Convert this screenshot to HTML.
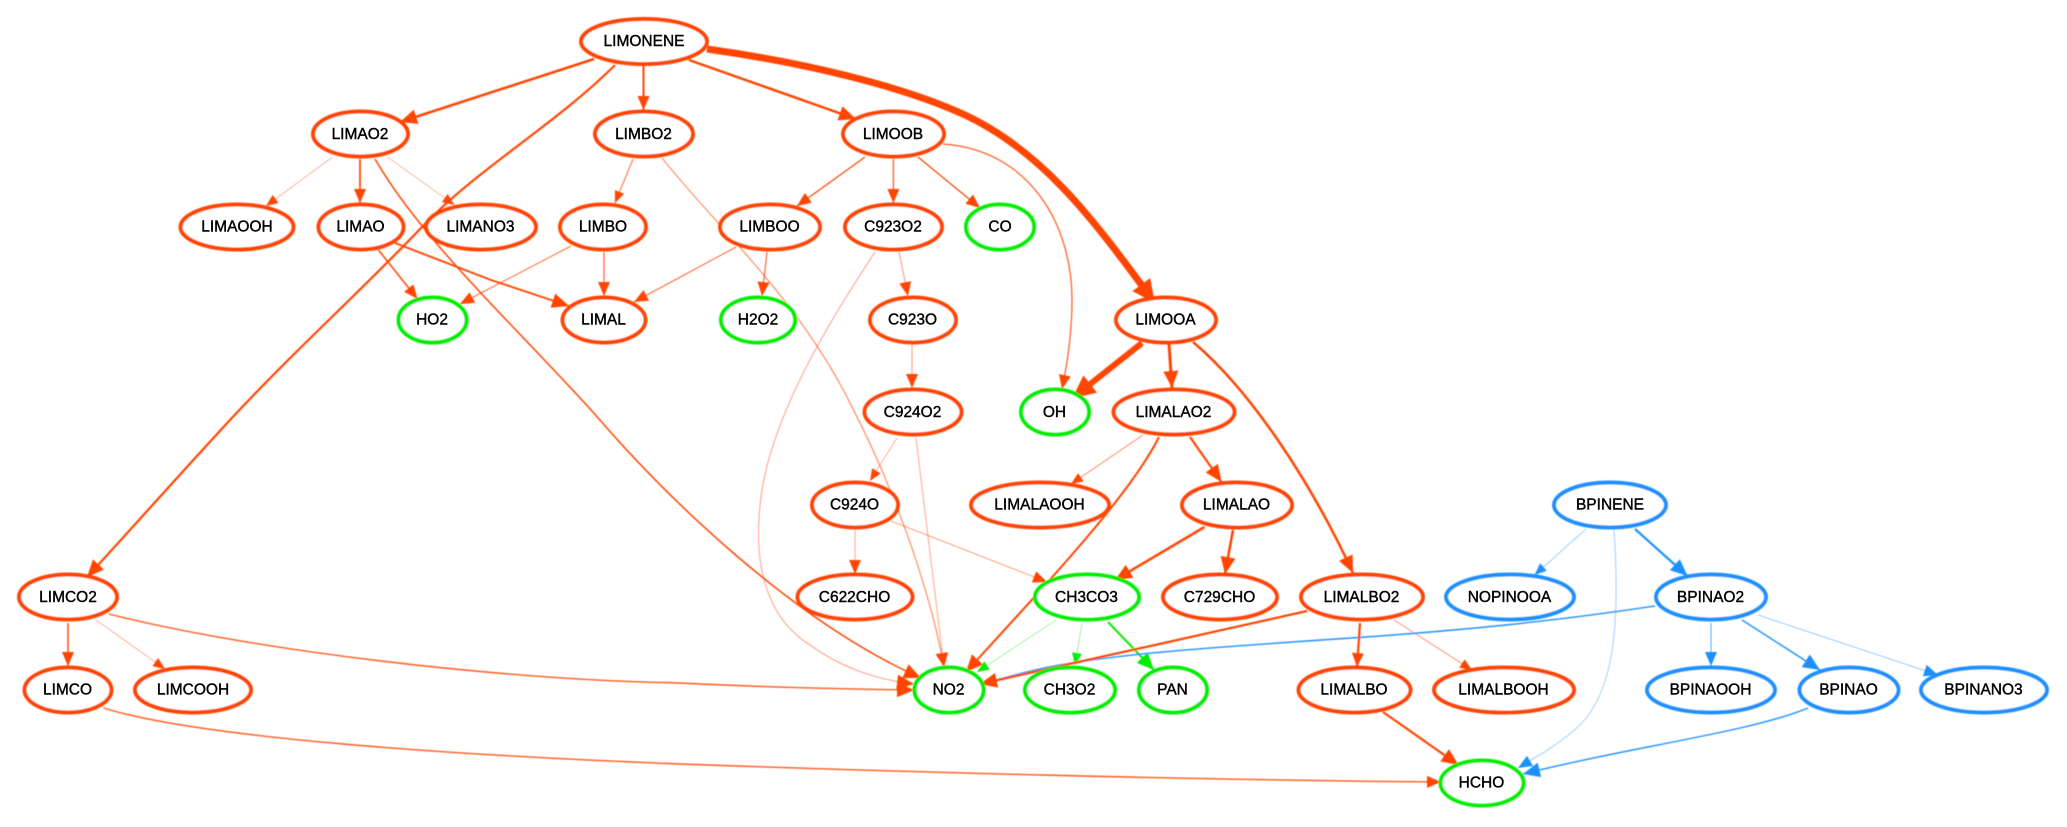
<!DOCTYPE html>
<html><head><meta charset="utf-8"><title>Reaction graph</title>
<style>
html,body{margin:0;padding:0;background:#fff;width:2067px;height:827px;overflow:hidden}
svg{display:block}
.e path{fill:none}
.n ellipse{fill:#fff;stroke-width:4}
.t text{font:15.5px "Liberation Sans",Arial,sans-serif;fill:#000;stroke:#000;stroke-width:.4;text-anchor:middle}
</style></head><body>
<svg xmlns="http://www.w3.org/2000/svg" width="2067" height="827" viewBox="0 0 2067 827">
<defs>
<filter id="b" filterUnits="userSpaceOnUse" x="0" y="0" width="2067" height="827"><feGaussianBlur stdDeviation="0.4"/></filter>
<marker id="oS" markerUnits="userSpaceOnUse" markerWidth="13" markerHeight="12" refX="12" refY="5" orient="auto"><path d="M0,0L12,5L0,10z" fill="#ff4500"/></marker>
<marker id="oM" markerUnits="userSpaceOnUse" markerWidth="15" markerHeight="14" refX="14" refY="6" orient="auto"><path d="M0,0L14,6L0,12z" fill="#ff4500"/></marker>
<marker id="oB" markerUnits="userSpaceOnUse" markerWidth="18" markerHeight="16" refX="17" refY="7.5" orient="auto"><path d="M0,0L17,7.5L0,15z" fill="#ff4500"/></marker>
<marker id="oX" markerUnits="userSpaceOnUse" markerWidth="24" markerHeight="22" refX="8" refY="11" orient="auto"><path d="M0,0L23,11L0,22z" fill="#ff4500"/></marker>
<marker id="gS" markerUnits="userSpaceOnUse" markerWidth="13" markerHeight="12" refX="12" refY="5" orient="auto"><path d="M0,0L12,5L0,10z" fill="#0e0"/></marker>
<marker id="gB" markerUnits="userSpaceOnUse" markerWidth="18" markerHeight="16" refX="17" refY="7.5" orient="auto"><path d="M0,0L17,7.5L0,15z" fill="#0e0"/></marker>
<marker id="bS" markerUnits="userSpaceOnUse" markerWidth="13" markerHeight="12" refX="12" refY="5" orient="auto"><path d="M0,0L12,5L0,10z" fill="#1e90ff"/></marker>
<marker id="bM" markerUnits="userSpaceOnUse" markerWidth="15" markerHeight="14" refX="14" refY="6" orient="auto"><path d="M0,0L14,6L0,12z" fill="#1e90ff"/></marker>
<marker id="bB" markerUnits="userSpaceOnUse" markerWidth="18" markerHeight="16" refX="17" refY="7.5" orient="auto"><path d="M0,0L17,7.5L0,15z" fill="#1e90ff"/></marker>
</defs>
<g filter="url(#b)">
<g class="e" stroke="#ff4500">
<path d="M594,59L400,122" stroke-width="2.5" marker-end="url(#oB)"/>
<path d="M643.5,66L643.5,110" stroke-width="2" marker-end="url(#oM)"/>
<path d="M615,65C555,125 478,168 422,227C360,292 295,350 230,420C180,474 135,525 87,577" stroke-width="2.2" marker-end="url(#oB)"/>
<path d="M689,60L856,119" stroke-width="2.5" marker-end="url(#oB)"/>
<path d="M707,49C800,62 900,85 965,115C1040,150 1090,215 1146,291" stroke-width="7" marker-end="url(#oX)"/>
<path d="M332.6,157L266,206" stroke-width=".7" stroke-opacity=".6" marker-end="url(#oS)"/>
<path d="M360,159L360,203" stroke-width="1.7" marker-end="url(#oM)"/>
<path d="M387.5,157L454.5,205" stroke-width=".6" stroke-opacity=".6" marker-end="url(#oS)"/>
<path d="M375,159C425,245 520,330 600,420C660,490 790,620 921,678" stroke-width="1.5" marker-end="url(#oB)"/>
<path d="M378.5,250L417.5,299" stroke-width="1.5" marker-end="url(#oM)"/>
<path d="M395,243L491,280L569,306" stroke-width="1.9" marker-end="url(#oB)"/>
<path d="M571,246L460,304" stroke-width="1" stroke-opacity=".8" marker-end="url(#oM)"/>
<path d="M604,252L604,296" stroke-width="1.2" stroke-opacity=".85" marker-end="url(#oM)"/>
<path d="M633,159L615,203" stroke-width="1" stroke-opacity=".8" marker-end="url(#oS)"/>
<path d="M662,158C715,225 800,300 852,407C895,490 930,590 944,667" stroke-width="1" stroke-opacity=".75" marker-end="url(#oM)"/>
<path d="M865,157L797,206" stroke-width="1.3" marker-end="url(#oM)"/>
<path d="M893.4,159L893.4,203" stroke-width="1.3" stroke-opacity=".9" marker-end="url(#oM)"/>
<path d="M918,157L980,208" stroke-width="1.3" marker-end="url(#oM)"/>
<path d="M943,144C1030,150 1072,225 1072,300C1072,335 1067,365 1062,389" stroke-width="1.2" stroke-opacity=".9" marker-end="url(#oM)"/>
<path d="M736,247L634,302" stroke-width="1" stroke-opacity=".85" marker-end="url(#oM)"/>
<path d="M767,252L762,296" stroke-width="1.1" stroke-opacity=".9" marker-end="url(#oM)"/>
<path d="M899,252L908,296" stroke-width=".8" stroke-opacity=".75" marker-end="url(#oM)"/>
<path d="M875,252C830,320 775,410 762,490C750,570 770,620 810,645C845,670 880,680 914,684" stroke-width=".8" stroke-opacity=".65" marker-end="url(#oB)"/>
<path d="M912,344L912,388" stroke-width=".8" stroke-opacity=".7" marker-end="url(#oM)"/>
<path d="M1142,343L1084,389" stroke-width="6" marker-end="url(#oX)"/>
<path d="M1169,344L1172,388" stroke-width="3" marker-end="url(#oB)"/>
<path d="M1193,342C1250,390 1310,480 1353,573" stroke-width="2.5" marker-end="url(#oB)"/>
<path d="M897,438L870,481" stroke-width=".7" stroke-opacity=".65" marker-end="url(#oS)"/>
<path d="M916,438L944,667" stroke-width=".8" stroke-opacity=".6" marker-end="url(#oM)"/>
<path d="M855,530L855,574" stroke-width=".8" stroke-opacity=".6" marker-end="url(#oM)"/>
<path d="M891,521L1047,582" stroke-width=".8" stroke-opacity=".65" marker-end="url(#oM)"/>
<path d="M1143,435L1071,484" stroke-width=".8" stroke-opacity=".7" marker-end="url(#oS)"/>
<path d="M1159,437C1130,495 1050,580 966,672" stroke-width="2" marker-end="url(#oB)"/>
<path d="M1190,437L1221.5,482" stroke-width="2.2" marker-end="url(#oB)"/>
<path d="M1204.5,527L1115,580" stroke-width="2.5" marker-end="url(#oB)"/>
<path d="M1233,530L1225,574" stroke-width="2.5" marker-end="url(#oB)"/>
</g>
<g class="e" stroke="#0e0">
<path d="M1056,620L977,672" stroke-width=".7" stroke-opacity=".55" marker-end="url(#gS)"/>
<path d="M1082,623L1075,665" stroke-width=".7" stroke-opacity=".6" marker-end="url(#gS)"/>
<path d="M1108,622L1154,670" stroke-width="2" marker-end="url(#gB)"/>
</g>
<g class="e" stroke="#1e90ff">
<path d="M1655,606C1550,622 1460,630 1380,636C1250,645 1130,652 1060,665C1030,670 1005,678 981,684" stroke-width="1.4" marker-end="url(#bS)"/>
<path d="M1586,529L1534.5,575" stroke-width=".8" stroke-opacity=".6" marker-end="url(#bS)"/>
<path d="M1635,529L1687.5,576" stroke-width="2.2" marker-end="url(#bB)"/>
<path d="M1614,530C1620,620 1615,690 1580,725C1562,742 1540,755 1518,768" stroke-width=".8" stroke-opacity=".55" marker-end="url(#bM)"/>
<path d="M1711,623L1711,666" stroke-width="1" stroke-opacity=".8" marker-end="url(#bM)"/>
<path d="M1742,620L1820,670" stroke-width="1.4" marker-end="url(#bB)"/>
<path d="M1758,615L1938,675" stroke-width=".9" stroke-opacity=".55" marker-end="url(#bM)"/>
<path d="M1808,708C1750,732 1640,745 1523,774" stroke-width="1.4" marker-end="url(#bB)"/>
</g>
<g class="e" stroke="#ff4500">
<path d="M1307,611L980,684" stroke-width="2.2" marker-end="url(#oB)"/>
<path d="M1360,623L1357,667" stroke-width="2.2" marker-end="url(#oM)"/>
<path d="M1394,620L1472,670" stroke-width=".8" stroke-opacity=".7" marker-end="url(#oS)"/>
<path d="M1383,712L1458.5,765" stroke-width="2.2" marker-end="url(#oB)"/>
<path d="M68,623L68,666" stroke-width="1.5" stroke-opacity=".95" marker-end="url(#oM)"/>
<path d="M96,620L165,669" stroke-width=".7" stroke-opacity=".6" marker-end="url(#oS)"/>
<path d="M109,614C250,650 500,680 680,683C760,687 840,689 914,690" stroke-width="1.4" stroke-opacity=".9" marker-end="url(#oB)"/>
<path d="M103.5,708C200,738 450,755 680,764C900,772 1200,780 1441,782" stroke-width="1.4" stroke-opacity=".9" marker-end="url(#oM)"/>
</g>
<g class="n" stroke="#ff4500">
<ellipse cx="644" cy="41.5" rx="63" ry="22.5"/>
<ellipse cx="360.5" cy="134" rx="47.5" ry="22.5"/>
<ellipse cx="644" cy="134" rx="49" ry="22.5"/>
<ellipse cx="893.5" cy="134" rx="50.5" ry="22.5"/>
<ellipse cx="237" cy="227" rx="56.5" ry="22.5"/>
<ellipse cx="361" cy="227" rx="42.5" ry="22.5"/>
<ellipse cx="481" cy="227" rx="55" ry="22.5"/>
<ellipse cx="603" cy="227" rx="43" ry="22.5"/>
<ellipse cx="770" cy="227" rx="50" ry="22.5"/>
<ellipse cx="893.5" cy="227" rx="48.5" ry="22.5"/>
<ellipse cx="604" cy="320" rx="41.5" ry="22.5"/>
<ellipse cx="913" cy="320" rx="43" ry="22.5"/>
<ellipse cx="1166" cy="320" rx="50" ry="22.5"/>
<ellipse cx="913" cy="412" rx="48.5" ry="22.5"/>
<ellipse cx="1174" cy="412" rx="60.5" ry="22.5"/>
<ellipse cx="855" cy="505" rx="43" ry="22.5"/>
<ellipse cx="1040" cy="505" rx="69" ry="22.5"/>
<ellipse cx="1237" cy="505" rx="55" ry="22.5"/>
<ellipse cx="855" cy="597" rx="57.5" ry="22.5"/>
<ellipse cx="1220" cy="597" rx="57" ry="22.5"/>
<ellipse cx="1362" cy="597" rx="61" ry="22.5"/>
<ellipse cx="68" cy="597" rx="49" ry="22.5"/>
<ellipse cx="68" cy="690" rx="43.5" ry="22.5"/>
<ellipse cx="193" cy="690" rx="58" ry="22.5"/>
<ellipse cx="1354.5" cy="690" rx="56" ry="22.5"/>
<ellipse cx="1504" cy="690" rx="70" ry="22.5"/>
</g>
<g class="n" stroke="#0e0">
<ellipse cx="432.5" cy="320" rx="34" ry="22.5"/>
<ellipse cx="1000" cy="227" rx="34" ry="22.5"/>
<ellipse cx="758" cy="320" rx="37" ry="22.5"/>
<ellipse cx="1055" cy="412" rx="34" ry="22.5"/>
<ellipse cx="1087" cy="597" rx="52" ry="22.5"/>
<ellipse cx="949" cy="690" rx="34.5" ry="22.5"/>
<ellipse cx="1070" cy="690" rx="45" ry="22.5"/>
<ellipse cx="1173" cy="690" rx="34" ry="22.5"/>
<ellipse cx="1482" cy="783" rx="41.5" ry="22.5"/>
</g>
<g class="n" stroke="#1e90ff">
<ellipse cx="1610" cy="505" rx="56" ry="22.5"/>
<ellipse cx="1510" cy="597" rx="64" ry="22.5"/>
<ellipse cx="1711" cy="597" rx="55" ry="22.5"/>
<ellipse cx="1711" cy="690" rx="64" ry="22.5"/>
<ellipse cx="1849" cy="690" rx="49.5" ry="22.5"/>
<ellipse cx="1984" cy="690" rx="63" ry="22.5"/>
</g>
</g>
<g class="t">
<text x="644" y="46">LIMONENE</text>
<text x="360" y="139">LIMAO2</text>
<text x="643.5" y="139">LIMBO2</text>
<text x="893" y="139">LIMOOB</text>
<text x="237" y="231.5">LIMAOOH</text>
<text x="360.5" y="231.5">LIMAO</text>
<text x="480.5" y="231.5">LIMANO3</text>
<text x="603" y="231.5">LIMBO</text>
<text x="769.5" y="231.5">LIMBOO</text>
<text x="893" y="231.5">C923O2</text>
<text x="1000" y="231.5">CO</text>
<text x="432" y="324.5">HO2</text>
<text x="603.5" y="324.5">LIMAL</text>
<text x="758" y="324.5">H2O2</text>
<text x="912.5" y="324.5">C923O</text>
<text x="1165.5" y="324.5">LIMOOA</text>
<text x="912.5" y="417">C924O2</text>
<text x="1054.5" y="417">OH</text>
<text x="1173.5" y="417">LIMALAO2</text>
<text x="854.5" y="509.5">C924O</text>
<text x="1039.5" y="509.5">LIMALAOOH</text>
<text x="1236.5" y="509.5">LIMALAO</text>
<text x="1610" y="509.5">BPINENE</text>
<text x="68" y="602">LIMCO2</text>
<text x="854.5" y="602">C622CHO</text>
<text x="1086.5" y="602">CH3CO3</text>
<text x="1219.5" y="602">C729CHO</text>
<text x="1361.5" y="602">LIMALBO2</text>
<text x="1509.5" y="602">NOPINOOA</text>
<text x="1710.5" y="602">BPINAO2</text>
<text x="67.5" y="694.5">LIMCO</text>
<text x="193" y="694.5">LIMCOOH</text>
<text x="948.5" y="694.5">NO2</text>
<text x="1069.5" y="694.5">CH3O2</text>
<text x="1172.5" y="694.5">PAN</text>
<text x="1354" y="694.5">LIMALBO</text>
<text x="1503.5" y="694.5">LIMALBOOH</text>
<text x="1710.5" y="694.5">BPINAOOH</text>
<text x="1848.5" y="694.5">BPINAO</text>
<text x="1983.5" y="694.5">BPINANO3</text>
<text x="1481.5" y="787.5">HCHO</text>
</g>
</svg>
</body></html>
